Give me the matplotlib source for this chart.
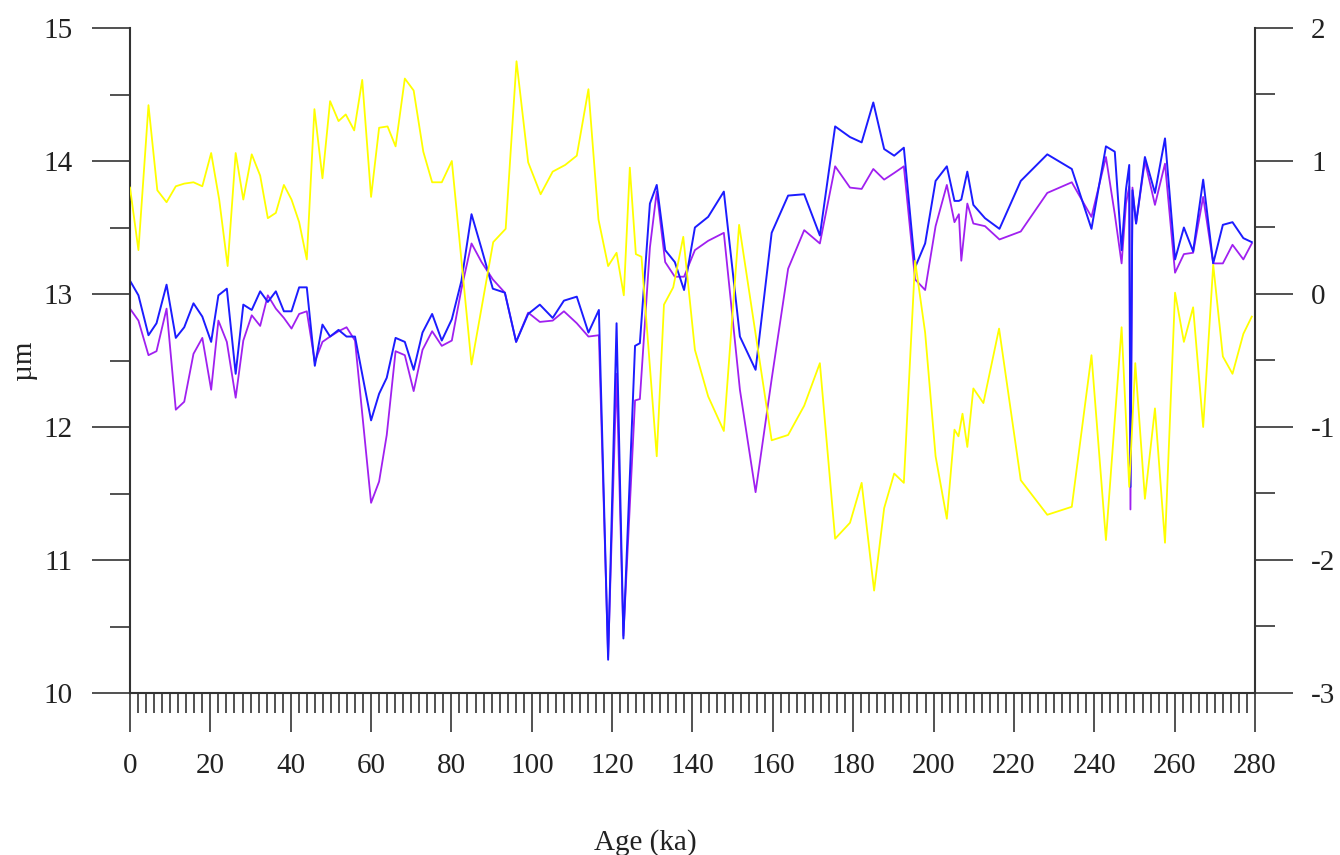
import matplotlib
matplotlib.use("Agg")
import matplotlib.pyplot as plt
from matplotlib.ticker import MultipleLocator

# grain-size series (left axis, µm) sampled at shared ages
age = [0.0, 2.1, 4.6, 6.6, 9.1, 11.4, 13.5, 15.8, 18.0, 20.2, 22.0, 24.1, 26.3, 28.2,
       30.3, 32.4, 34.3, 36.3, 38.3, 40.2, 42.1, 44.0, 46.0, 47.9, 49.8, 51.9, 53.9, 56.0,
       60.0, 62.0, 63.9, 66.1, 68.4, 70.6, 72.8, 75.2, 77.6, 80.1, 82.5, 85.0, 87.5, 90.3,
       93.3, 96.1, 99.1, 102.0, 105.2, 108.0, 111.2, 114.1, 116.7, 119.0, 121.1, 122.8,
       125.7, 126.9, 129.4, 131.1, 133.2, 135.6, 137.9, 140.6, 143.9, 147.8, 151.8, 155.7,
       159.7, 163.8, 167.8, 171.7, 175.5, 179.2, 182.1, 185.0, 187.7, 190.2, 192.6, 195.4,
       197.9, 200.5, 203.3, 205.2, 206.3, 206.9, 208.4, 209.9, 212.8, 216.4, 221.7, 228.3,
       234.4, 239.3, 242.9, 245.1, 246.8, 247.9, 248.7, 249.0, 249.5, 250.4, 252.6, 255.1,
       257.6, 260.1, 262.3, 264.6, 267.1, 269.6, 272.0, 274.4, 277.1, 279.2]

blue_vals = [13.10, 12.99, 12.69, 12.78, 13.07, 12.67, 12.75, 12.93, 12.83, 12.64, 12.99, 13.04,
             12.40, 12.92, 12.88, 13.02, 12.94, 13.02, 12.87, 12.87, 13.05, 13.05, 12.46, 12.77,
             12.68, 12.73, 12.68, 12.68, 12.05, 12.25, 12.37, 12.67, 12.64, 12.43, 12.71, 12.85,
             12.65, 12.81, 13.10, 13.60, 13.34, 13.04, 13.01, 12.64, 12.85, 12.92, 12.82, 12.95,
             12.98, 12.71, 12.88, 10.25, 12.78, 10.41, 12.61, 12.63, 13.68, 13.82, 13.33, 13.24,
             13.03, 13.50, 13.58, 13.77, 12.68, 12.43, 13.46, 13.74, 13.75, 13.44, 14.26, 14.18,
             14.14, 14.44, 14.09, 14.04, 14.10, 13.20, 13.38, 13.85, 13.96, 13.70, 13.70, 13.71,
             13.92, 13.67, 13.57, 13.49, 13.85, 14.05, 13.94, 13.49, 14.11, 14.07, 13.33, 13.79,
             13.97, 11.55, 13.78, 13.53, 14.03, 13.76, 14.17, 13.26, 13.50, 13.32, 13.86, 13.23,
             13.52, 13.54, 13.42, 13.39]

purple_vals = [12.89, 12.80, 12.54, 12.57, 12.89, 12.13, 12.19, 12.55, 12.67, 12.28, 12.80, 12.64,
               12.22, 12.65, 12.84, 12.76, 12.99, 12.89, 12.82, 12.74, 12.85, 12.87, 12.49, 12.64,
               12.68, 12.72, 12.75, 12.65, 11.43, 11.59, 11.94, 12.57, 12.54, 12.27, 12.58, 12.72,
               12.61, 12.65, 13.04, 13.38, 13.24, 13.11, 13.01, 12.64, 12.86, 12.79, 12.80, 12.87,
               12.78, 12.68, 12.69, 10.27, 12.40, 10.43, 12.20, 12.21, 13.35, 13.77, 13.24, 13.13,
               13.13, 13.33, 13.40, 13.46, 12.28, 11.51, 12.36, 13.19, 13.48, 13.38, 13.96, 13.80,
               13.79, 13.94, 13.86, 13.91, 13.96, 13.11, 13.03, 13.51, 13.82, 13.54, 13.60, 13.25,
               13.68, 13.53, 13.51, 13.41, 13.47, 13.76, 13.84, 13.58, 14.03, 13.60, 13.23, 13.68,
               13.81, 11.38, 13.80, 13.53, 14.00, 13.67, 13.98, 13.16, 13.30, 13.31, 13.73, 13.23,
               13.23, 13.37, 13.26, 13.38]

# second record on the right axis
age_y = [0.0, 2.1, 4.6, 6.8, 9.1, 11.4, 13.5, 15.8, 18.0, 20.2, 22.2, 24.3, 26.3, 28.2, 30.3,
         32.4, 34.3, 36.3, 38.3, 40.2, 42.1, 44.0, 45.9, 47.9, 49.8, 51.9, 53.7, 55.8, 57.8,
         60.0, 62.0, 64.1, 66.1, 68.4, 70.6, 73.0, 75.2, 77.6, 80.1, 85.0, 90.4, 93.5, 96.2,
         99.1, 102.2, 105.2, 108.3, 111.2, 114.1, 116.6, 119.0, 121.1, 122.9, 124.4, 125.9,
         127.3, 131.1, 132.9, 135.2, 137.7, 140.6, 143.9, 147.8, 151.6, 159.7, 163.8, 167.8,
         171.7, 175.5, 179.2, 182.1, 185.2, 187.7, 190.2, 192.6, 195.4, 197.9, 200.5, 203.3,
         205.2, 206.2, 207.2, 208.4, 209.9, 212.4, 216.3, 221.7, 228.3, 234.4, 239.3, 242.9,
         246.8, 248.7, 250.2, 252.6, 255.1, 257.6, 260.1, 262.3, 264.6, 267.1, 269.6, 272.0,
         274.4, 277.1, 279.2]

yellow_vals = [0.80, 0.33, 1.42, 0.78, 0.69, 0.81, 0.83, 0.84, 0.81, 1.06, 0.71, 0.21, 1.06, 0.71,
               1.05, 0.89, 0.57, 0.61, 0.82, 0.71, 0.54, 0.26, 1.39, 0.87, 1.45, 1.30, 1.35, 1.23,
               1.61, 0.73, 1.25, 1.26, 1.11, 1.62, 1.53, 1.07, 0.84, 0.84, 1.00, -0.53, 0.39, 0.49,
               1.75, 0.99, 0.75, 0.92, 0.97, 1.04, 1.54, 0.56, 0.21, 0.31, -0.01, 0.95, 0.30, 0.28,
               -1.22, -0.08, 0.05, 0.43, -0.42, -0.77, -1.03, 0.52, -1.10, -1.06, -0.84, -0.52,
               -1.84, -1.72, -1.42, -2.23, -1.61, -1.35, -1.42, 0.25, -0.29, -1.22, -1.69, -1.02,
               -1.07, -0.90, -1.15, -0.71, -0.82, -0.26, -1.40, -1.66, -1.60, -0.46, -1.85, -0.25,
               -1.45, -0.52, -1.54, -0.86, -1.87, 0.01, -0.36, -0.10, -1.00, 0.22, -0.47, -0.60,
               -0.30, -0.17]

plt.rcParams['font.family'] = ['Liberation Serif', 'DejaVu Serif']
plt.rcParams['axes.unicode_minus'] = False
axis_col = '#333333'
text_col = '#222222'

fig = plt.figure(figsize=(13.4, 8.55), dpi=100)
ax = fig.add_axes([130 / 1340, 1 - 693 / 855, 1125 / 1340, 665 / 855])
ax2 = ax.twinx()

ax.plot(age, purple_vals, color='#a020f0', lw=1.3)
ax.plot(age, blue_vals, color='#1c1cff', lw=1.4)
ax2.plot(age_y, yellow_vals, color='#ffff00', lw=1.3)

ax.set_xlim(0, 280)
ax.set_ylim(10, 15)
ax2.set_ylim(-3, 2)

ax.xaxis.set_major_locator(MultipleLocator(20))
ax.xaxis.set_minor_locator(MultipleLocator(2))
ax.yaxis.set_major_locator(MultipleLocator(1))
ax.yaxis.set_minor_locator(MultipleLocator(0.5))
ax2.yaxis.set_major_locator(MultipleLocator(1))
ax2.yaxis.set_minor_locator(MultipleLocator(0.5))

for a in (ax, ax2):
    a.spines['top'].set_visible(False)
    for s in a.spines.values():
        s.set_color(axis_col)
        s.set_linewidth(1.5)
ax.spines['right'].set_visible(False)
ax2.spines['left'].set_visible(False)
ax2.spines['bottom'].set_visible(False)

ax.tick_params(axis='x', which='major', direction='out', length=28, width=1.2,
               color=axis_col, labelsize=21, labelcolor=text_col, pad=15)
ax.tick_params(axis='x', which='minor', direction='out', length=14.5, width=1.2, color=axis_col)
ax.tick_params(axis='y', which='major', direction='out', length=27.5, width=1.2,
               color=axis_col, labelsize=21, labelcolor=text_col, pad=14)
ax.tick_params(axis='y', which='minor', direction='out', length=14.5, width=1.2, color=axis_col)
ax2.tick_params(axis='y', which='major', direction='out', length=27.5, width=1.2,
                color=axis_col, labelsize=21, labelcolor=text_col, pad=13)
ax2.tick_params(axis='y', which='minor', direction='out', length=14.5, width=1.2, color=axis_col)

ax.set_ylabel('µm', fontsize=21, color=text_col)
ax.yaxis.set_label_coords(-0.083, 0.5)
fig.text(645 / 1340, 5 / 855, 'Age (ka)', fontsize=21, color=text_col,
         ha='center', va='baseline')

fig.savefig('out.png', dpi=100)
